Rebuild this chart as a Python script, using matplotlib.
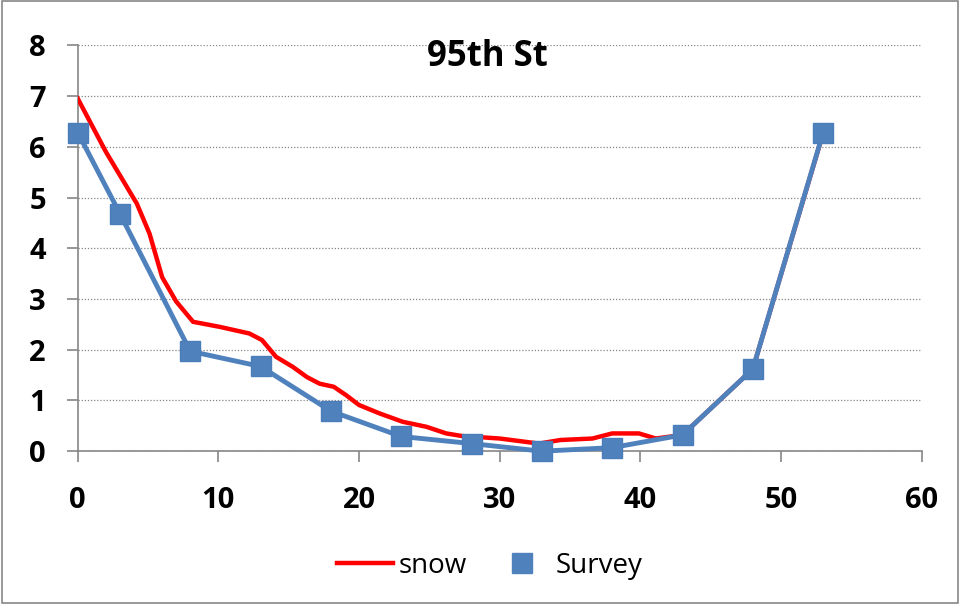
import matplotlib.pyplot as plt
from matplotlib.lines import Line2D

# data
snow_x = [0, 2, 4.2, 5.1, 6, 7, 8.2, 10.1, 12.2, 13.1, 14.1, 15.3, 16.3, 17.2, 18.2,
          19.1, 20, 21.5, 23.1, 24.8, 26.2, 27.3, 30, 32.8, 34.3, 36.6, 38, 39.9, 41.1,
          43, 48, 53]
snow_y = [6.95, 5.9, 4.88, 4.29, 3.43, 2.95, 2.55, 2.45, 2.32, 2.19, 1.86, 1.66, 1.46, 1.33, 1.27,
          1.1, 0.91, 0.74, 0.58, 0.48, 0.35, 0.3, 0.25, 0.15, 0.22, 0.25, 0.35, 0.35, 0.25,
          0.32, 1.62, 6.27]

survey_x = [0, 3, 8, 13, 18, 23, 28, 33, 38, 43, 48, 53]
survey_y = [6.28, 4.68, 1.97, 1.67, 0.79, 0.29, 0.15, 0.0, 0.07, 0.32, 1.62, 6.28]

plt.rcParams['font.family'] = ['Open Sans', 'DejaVu Sans']

fig = plt.figure(figsize=(9.6, 6.04), dpi=100)
ax = fig.add_axes([0.081, 0.253, 0.879, 0.672])

ax.plot(snow_x, snow_y, color='#FF0000', lw=3.2, zorder=3)
ax.plot(survey_x, survey_y, color='#4F81BD', lw=3.5, marker='s', markersize=14,
        markeredgecolor='#4A7EBB', zorder=4, clip_on=False)

ax.set_xlim(0, 60)
ax.set_ylim(0, 8)
ax.set_xticks(range(0, 61, 10))
ax.set_yticks(range(0, 9))
ax.tick_params(labelsize=21, length=8, width=1.2, color='#868686')
ax.tick_params(axis='x', pad=17)
ax.tick_params(axis='y', pad=15)
for lab in ax.get_xticklabels() + ax.get_yticklabels():
    lab.set_fontweight('bold')

ax.grid(axis='y', linestyle=(0, (1, 1.5)), color='#868686', lw=0.9)
ax.set_axisbelow(True)
for s in ['top', 'right']:
    ax.spines[s].set_visible(False)
for s in ['left', 'bottom']:
    ax.spines[s].set_color('#868686')
    ax.spines[s].set_linewidth(1.2)

ax.text(0.486, 0.972, '95th St', transform=ax.transAxes, ha='center', va='center',
        fontsize=25, fontweight='bold')

handles = [Line2D([], [], color='#FF0000', lw=3.2),
           Line2D([], [], color='#4F81BD', marker='s', markersize=15, linestyle='none')]
fig.legend(handles, ['snow', 'Survey'], loc='center', bbox_to_anchor=(0.51, 0.063),
           ncol=2, frameon=False, fontsize=20, handlelength=2.0, columnspacing=1.0,
           handletextpad=0.2)

fig.patches.append(plt.Rectangle((0.002, 0.002), 0.996, 0.996, transform=fig.transFigure,
                                 fill=False, edgecolor='#888888', lw=1.2))

fig.savefig('out.png', dpi=100)
